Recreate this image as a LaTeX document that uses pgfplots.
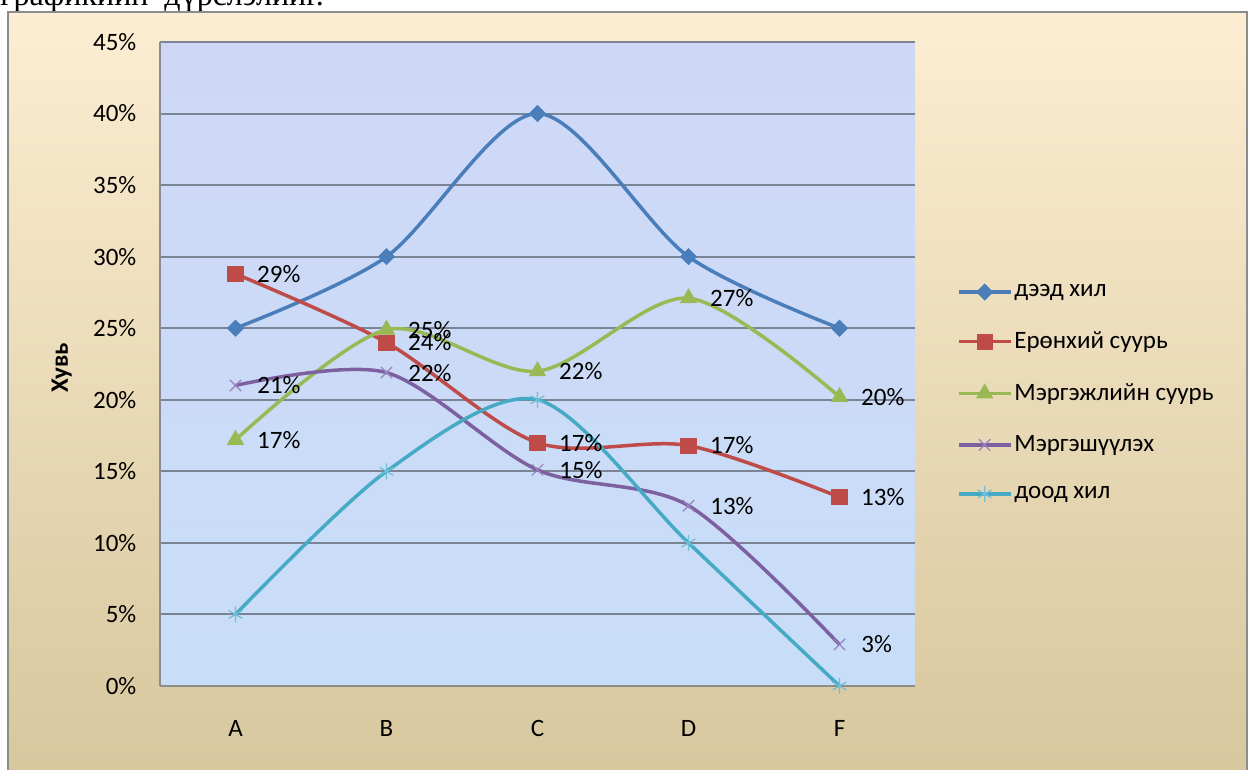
\documentclass[border=0pt]{standalone}
\usepackage{fontspec}
\setmainfont{Carlito}
\newfontfamily\serifcyr{Liberation Serif}
\usepackage{pgfplots}
\pgfplotsset{compat=1.18}

\definecolor{cBlue}{RGB}{74,126,187}
\definecolor{cRed}{RGB}{190,75,72}
\definecolor{cGreen}{RGB}{152,185,84}
\definecolor{cPurple}{RGB}{125,96,160}
\definecolor{cPurpleM}{RGB}{150,130,190}
\definecolor{cTeal}{RGB}{70,170,197}
\definecolor{cTealM}{RGB}{110,190,215}
\definecolor{bgTop}{RGB}{253,237,210}
\definecolor{bgMid}{RGB}{244,228,196}
\definecolor{bgBot}{RGB}{214,199,157}
\definecolor{plotbgT}{RGB}{206,216,246}
\definecolor{plotbgB}{RGB}{200,222,248}
\definecolor{gridc}{RGB}{122,132,148}
\definecolor{framec}{RGB}{140,140,140}

\newcommand\lblfont{\fontsize{12.5pt}{15pt}\selectfont}

\begin{document}
\begin{tikzpicture}[x=0.5pt,y=0.5pt]
\useasboundingbox (0,0) rectangle (1253,770);
\begin{scope}
  \clip (0,0) rectangle (1253,770);
  \node[anchor=base west, inner sep=0pt, font=\serifcyr\fontsize{16pt}{19pt}\selectfont] at (0,764) {графикийн\ \ дүрслэлийг.};
  \shade[top color=bgTop, middle color=bgMid, bottom color=bgBot] (8,-10) rectangle (1247,758);
  \draw[framec, line width=0.75pt] (8,-10) rectangle (1247,758);
\end{scope}

\begin{axis}[
  at={(80pt,42pt)}, anchor=south west,
  scale only axis, width=377.5pt, height=322pt,
  xmin=-0.5, xmax=4.5, ymin=0, ymax=45,
  xtick={0,...,4}, xticklabels={A,B,C,D,F},
  ytick={0,5,...,45},
  yticklabel={\pgfmathprintnumber{\tick}\%},
  /pgf/number format/assume math mode=true,
  ymajorgrids, major grid style={gridc, line width=1pt},
  axis x line*=bottom, axis y line*=left,
  axis line style={framec, line width=1pt, -},
  major tick length=0pt,
  tick label style={font=\lblfont, black},
  xticklabel style={yshift=-13.8pt},
  yticklabel style={xshift=-8.3pt},
  ylabel={Хувь},
  ylabel style={font=\lblfont\bfseries, at={(axis description cs:-0.13,0.494)}, anchor=center},
  axis background/.style={top color=plotbgT, bottom color=plotbgB},
  clip=false,
  every node near coord/.append style={anchor=west, xshift=7.3pt, text=black, font=\lblfont},
  legend style={draw=none, fill=none, at={(axis description cs:1.055,0.455)}, anchor=west,
    font=\lblfont, row sep=14pt, inner sep=0pt, nodes={inner sep=1pt}},
  legend cell align=left,
  legend image code/.code={\draw[mark repeat=2,mark phase=2] plot coordinates {(0pt,0pt)(13pt,0pt)(26pt,0pt)};},
]
\addplot[cBlue, line width=1.75pt, smooth, mark=square*, mark size=2.83pt,
  mark options={rotate=45, fill=cBlue, draw=cBlue, line width=0.4pt}]
  coordinates {(0,25)(1,30)(2,40)(3,30)(4,25)};
\addlegendentry{дээд хил}

\addplot[cRed, line width=1.75pt, smooth, mark=square*, mark size=3.8pt,
  mark options={fill=cRed, draw=cRed, line width=0.4pt},
  nodes near coords, point meta=explicit symbolic]
  coordinates {(0,28.8)[29\%] (1,24.0)[24\%] (2,17.0)[17\%] (3,16.8)[17\%] (4,13.2)[13\%]};
\addlegendentry{Ерөнхий суурь}

\addplot[cGreen, line width=1.75pt, smooth, mark=triangle*, mark size=4.6pt,
  mark options={fill=cGreen, draw=cGreen, line width=0.4pt},
  nodes near coords, point meta=explicit symbolic]
  coordinates {(0,17.2)[17\%] (1,24.9)[25\%] (2,22.0)[22\%] (3,27.1)[27\%] (4,20.2)[20\%]};
\addlegendentry{Мэргэжлийн суурь}

\addplot[cPurple, line width=1.75pt, smooth, mark=x, mark size=4pt,
  mark options={draw=cPurpleM, line width=0.6pt},
  nodes near coords, point meta=explicit symbolic]
  coordinates {(0,21.0)[21\%] (1,21.9)[22\%] (2,15.1)[15\%] (3,12.6)[13\%] (4,2.9)[3\%]};
\addlegendentry{Мэргэшүүлэх}

\addplot[cTeal, line width=1.75pt, smooth, mark=asterisk, mark size=4pt,
  mark options={draw=cTealM, line width=0.6pt}]
  coordinates {(0,5)(1,15)(2,20)(3,10)(4,0)};
\addlegendentry{доод хил}
\end{axis}
\end{tikzpicture}
\end{document}
